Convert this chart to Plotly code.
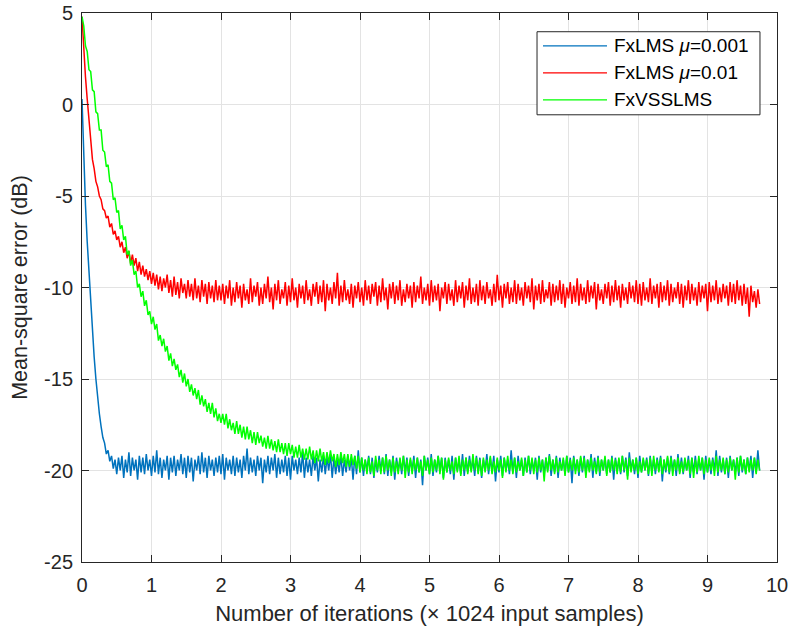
import plotly.graph_objects as go

# iteration step (x 1024 input samples) between stored points
STEP = 0.025

series_names = ["FxLMS <i>μ</i>=0.001", "FxLMS <i>μ</i>=0.01", "FxVSSLMS"]

fxlms_mu001 = [
    0.3, -3.0, -5.5, -7.5, -9.2, -10.9, -12.4, -13.8, -15.0, -16.2,
    -16.9, -17.6, -18.2, -18.5, -19.1, -18.9, -19.5, -19.2, -19.9, -19.4,
    -20.2, -19.3, -20.0, -19.2, -20.4, -19.4, -20.1, -19.0, -20.3, -19.3,
    -20.0, -19.4, -20.5, -19.2, -20.1, -19.3, -20.2, -19.1, -20.0, -19.4,
    -20.3, -19.2, -20.1, -18.9, -20.2, -19.3, -20.4, -19.4, -20.0, -19.2,
    -20.5, -19.3, -20.1, -19.2, -20.3, -19.4, -20.0, -19.1, -20.2, -19.3,
    -20.4, -19.2, -20.1, -19.3, -20.6, -19.4, -20.0, -19.2, -20.2, -19.0,
    -20.1, -19.3, -20.4, -19.2, -20.0, -19.4, -20.3, -19.3, -20.1, -19.2,
    -20.2, -19.1, -20.5, -19.3, -20.0, -19.4, -20.2, -19.2, -20.3, -19.3,
    -20.1, -19.4, -20.4, -19.2, -20.0, -18.8, -20.2, -19.3, -20.1, -19.4,
    -20.3, -19.2, -20.0, -19.3, -20.7, -19.4, -20.1, -19.2, -20.2, -19.3,
    -20.0, -19.1, -20.4, -19.3, -20.2, -19.4, -20.1, -19.2, -20.3, -19.3,
    -20.5, -19.2, -20.0, -19.4, -20.2, -19.3, -20.1, -19.0, -20.4, -19.3,
    -20.1, -19.4, -20.3, -19.2, -20.0, -19.3, -20.6, -19.4, -20.1, -19.2,
    -20.2, -19.3, -20.0, -19.1, -20.4, -19.3, -20.2, -19.4, -20.1, -19.2,
    -20.3, -19.4, -20.1, -19.2, -20.0, -19.3, -20.5, -19.2, -20.2, -18.9,
    -20.1, -19.3, -20.3, -19.4, -20.0, -19.2, -20.2, -19.3, -20.4, -19.4,
    -20.1, -19.2, -20.0, -19.3, -20.2, -19.1, -20.3, -19.4, -20.1, -19.2,
    -20.5, -19.3, -20.0, -19.4, -20.2, -19.2, -20.1, -19.3, -20.3, -19.4,
    -20.0, -19.2, -20.4, -19.3, -20.1, -19.4, -20.8, -19.2, -20.0, -19.3,
    -20.2, -19.1, -20.3, -19.4, -20.1, -19.2, -20.0, -19.3, -20.4, -19.3,
    -20.1, -19.4, -20.2, -19.2, -20.5, -19.3, -20.0, -19.4, -20.2, -19.1,
    -20.3, -19.3, -20.1, -19.2, -20.0, -19.4, -20.3, -19.2, -20.1, -19.3,
    -20.4, -19.4, -20.0, -19.1, -20.2, -19.3, -20.1, -19.2, -20.6, -19.4,
    -20.1, -19.2, -20.3, -19.3, -20.0, -19.4, -20.2, -18.9, -20.1, -19.3,
    -20.4, -19.2, -20.0, -19.4, -20.3, -19.3, -20.1, -19.2, -20.2, -19.4,
    -20.0, -19.3, -20.5, -19.2, -20.1, -19.4, -20.2, -19.3, -20.0, -19.1,
    -20.3, -19.4, -20.1, -19.2, -20.4, -19.3, -20.0, -19.4, -20.2, -19.2,
    -20.1, -19.3, -20.7, -19.2, -20.0, -19.4, -20.3, -19.3, -20.1, -19.2,
    -20.2, -19.4, -20.0, -19.1, -20.4, -19.3, -20.1, -19.2, -20.3, -19.4,
    -20.0, -19.3, -20.2, -19.4, -20.1, -19.2, -20.5, -19.3, -20.0, -19.4,
    -20.2, -19.2, -20.1, -19.3, -20.3, -19.0, -20.0, -19.4, -20.2, -19.3,
    -20.4, -19.2, -20.1, -19.4, -20.0, -19.3, -20.3, -19.2, -20.1, -19.4,
    -20.2, -19.3, -20.0, -19.2, -20.6, -19.4, -20.1, -19.3, -20.2, -19.2,
    -20.0, -19.4, -20.3, -19.1, -20.1, -19.3, -20.2, -19.4, -20.0, -19.2,
    -20.4, -19.3, -20.1, -19.2, -20.2, -19.4, -20.0, -19.3, -20.5, -19.2,
    -20.1, -19.4, -20.2, -19.3, -20.0, -18.9, -20.3, -19.2, -20.1, -19.4,
    -20.2, -19.3, -20.4, -19.2, -20.0, -19.4, -20.1, -19.3, -20.3, -19.2,
    -20.1, -19.4, -20.2, -19.3, -20.0, -19.2, -20.4, -19.3, -20.1, -18.9,
    -20.0,
]

fxlms_mu01 = [
    4.8, 3.0, 1.5, 0.3, -0.8, -1.9, -3.0, -3.5, -4.2, -4.5,
    -5.0, -5.2, -5.7, -5.8, -6.2, -6.1, -6.7, -6.5, -7.1, -6.9,
    -7.4, -7.2, -7.8, -7.5, -8.1, -7.8, -8.4, -8.0, -8.7, -8.2,
    -8.8, -8.4, -9.1, -8.6, -9.3, -8.8, -9.4, -9.0, -9.6, -9.1,
    -9.8, -9.2, -9.9, -9.3, -10.1, -9.4, -10.2, -9.5, -10.0, -9.3,
    -10.3, -9.6, -10.5, -9.4, -10.4, -9.7, -10.6, -9.5, -10.3, -9.8,
    -10.6, -9.6, -10.5, -9.8, -10.7, -9.5, -10.6, -9.9, -10.8, -9.6,
    -10.5, -9.8, -10.9, -9.7, -10.6, -9.9, -10.8, -9.6, -10.7, -9.9,
    -10.7, -9.8, -10.9, -9.9, -10.6, -9.6, -11.0, -10.0, -10.8, -9.7,
    -10.6, -9.9, -11.1, -9.8, -10.7, -10.1, -10.9, -9.5, -10.8, -9.9,
    -10.5, -9.7, -11.0, -10.0, -10.9, -9.8, -10.6, -9.4, -10.8, -10.0,
    -11.2, -9.8, -10.7, -9.6, -10.9, -10.1, -10.6, -9.7, -11.0, -9.9,
    -10.8, -9.5, -10.7, -10.0, -11.1, -9.8, -10.6, -9.9, -10.9, -9.6,
    -10.7, -10.1, -11.0, -9.8, -10.5, -9.7, -10.9, -9.9, -10.8, -9.6,
    -11.3, -9.8, -10.7, -10.0, -10.9, -9.7, -10.6, -9.2, -11.0, -9.9,
    -10.8, -9.6, -10.7, -10.1, -10.9, -9.8, -11.1, -9.9, -10.6, -9.7,
    -10.8, -10.0, -11.0, -9.6, -10.7, -9.9, -10.9, -9.8, -10.5, -9.7,
    -11.0, -9.9, -10.8, -9.5, -10.7, -10.0, -11.2, -9.8, -10.6, -9.7,
    -10.9, -9.9, -10.7, -9.6, -11.0, -10.1, -10.8, -9.8, -10.6, -9.9,
    -11.1, -9.7, -10.8, -9.9, -10.6, -9.4, -10.9, -10.0, -10.7, -9.8,
    -11.0, -9.6, -10.8, -9.9, -10.7, -9.8, -11.3, -10.0, -10.6, -9.7,
    -10.9, -9.8, -10.7, -10.1, -11.0, -9.6, -10.8, -9.9, -10.6, -9.7,
    -11.1, -9.9, -10.7, -9.5, -10.9, -10.0, -10.8, -9.8, -11.0, -9.6,
    -10.7, -9.9, -10.9, -9.7, -10.6, -10.1, -11.0, -9.8, -10.8, -9.3,
    -10.7, -9.9, -11.1, -9.8, -10.6, -9.7, -10.9, -10.0, -10.8, -9.6,
    -10.9, -9.8, -10.7, -10.0, -11.0, -9.7, -10.6, -9.9, -10.8, -9.5,
    -11.2, -9.9, -10.7, -9.8, -10.9, -9.6, -10.8, -10.1, -10.6, -9.7,
    -11.0, -9.8, -10.8, -9.9, -10.7, -9.6, -10.9, -9.8, -11.1, -10.0,
    -10.6, -9.7, -10.9, -9.9, -10.8, -9.5, -11.0, -9.8, -10.7, -10.0,
    -10.9, -9.6, -10.8, -9.9, -10.6, -9.7, -11.2, -9.8, -10.7, -10.1,
    -10.9, -9.8, -10.6, -9.7, -11.0, -9.9, -10.8, -9.6, -10.7, -9.9,
    -11.1, -9.8, -10.7, -10.0, -10.9, -9.7, -10.6, -9.9, -10.8, -9.6,
    -10.9, -9.8, -11.0, -9.7, -10.7, -10.0, -10.8, -9.5, -10.9, -9.9,
    -10.6, -9.8, -11.1, -9.7, -10.8, -9.9, -10.7, -9.6, -11.0, -9.8,
    -10.8, -10.0, -10.6, -9.7, -10.9, -9.8, -11.1, -9.9, -10.7, -9.6,
    -10.9, -9.8, -10.7, -10.0, -11.0, -9.7, -10.8, -9.9, -10.6, -9.8,
    -11.3, -9.7, -10.8, -9.9, -10.7, -9.6, -10.9, -10.0, -10.8, -9.8,
    -10.6, -9.9, -11.0, -9.7, -10.8, -9.8, -10.9, -9.6, -10.7, -9.9,
    -11.0, -9.8, -10.9, -10.0, -11.6, -9.9, -10.8, -10.2, -11.1, -10.1,
    -10.9,
]

fxvsslms = [
    4.8, 4.3, 3.2, 2.9, 1.9, 1.8, 0.8, 0.7, -0.4, -0.5,
    -1.4, -1.4, -2.5, -2.6, -3.4, -3.3, -4.2, -4.3, -5.2, -5.1,
    -5.9, -5.8, -6.8, -6.6, -7.4, -7.2, -8.2, -8.0, -8.8, -8.5,
    -9.3, -9.1, -10.0, -9.8, -10.5, -10.2, -11.0, -10.7, -11.5, -11.3,
    -12.0, -11.6, -12.3, -12.0, -12.9, -12.6, -13.2, -12.8, -13.5, -13.2,
    -14.0, -13.6, -14.3, -13.9, -14.5, -14.2, -14.9, -14.5, -15.2, -14.7,
    -15.4, -15.0, -15.7, -15.3, -15.9, -15.5, -16.1, -15.6, -16.4, -15.9,
    -16.5, -16.1, -16.8, -16.3, -16.9, -16.3, -17.1, -16.6, -17.3, -16.9,
    -17.4, -16.9, -17.5, -16.9, -17.7, -17.2, -17.8, -17.4, -18.0, -17.3,
    -18.0, -17.5, -18.2, -17.6, -18.3, -17.6, -18.3, -17.8, -18.5, -17.9,
    -18.6, -17.9, -18.5, -18.1, -18.7, -18.2, -18.8, -18.1, -18.8, -18.3,
    -18.9, -18.4, -19.0, -18.3, -19.0, -18.5, -19.1, -18.5, -19.2, -18.5,
    -19.1, -18.6, -19.3, -18.7, -19.3, -18.6, -19.3, -18.8, -19.4, -18.8,
    -19.4, -18.7, -19.4, -18.9, -19.6, -18.9, -19.5, -18.8, -19.5, -19.0,
    -19.7, -19.0, -19.6, -18.9, -19.5, -19.1, -19.8, -19.1, -19.7, -19.0,
    -19.6, -19.1, -19.8, -19.1, -19.8, -19.1, -19.7, -19.2, -19.9, -19.2,
    -20.1, -19.3, -20.0, -19.4, -20.2, -19.3, -20.1, -19.5, -20.3, -19.2,
    -20.0, -19.4, -20.2, -19.3, -20.1, -19.2, -20.0, -19.4, -20.3, -19.3,
    -20.1, -19.5, -20.2, -19.3, -20.0, -19.2, -20.4, -19.4, -20.1, -19.3,
    -20.2, -19.4, -20.0, -19.3, -20.1, -19.5, -20.3, -19.2, -20.0, -19.4,
    -20.2, -19.3, -20.1, -19.4, -20.0, -19.2, -20.2, -19.3, -20.5, -19.4,
    -20.1, -19.3, -20.0, -19.5, -20.2, -19.3, -20.1, -19.2, -20.3, -19.4,
    -20.0, -19.3, -20.2, -19.4, -20.1, -19.1, -20.0, -19.3, -20.2, -19.4,
    -20.3, -19.3, -20.1, -19.4, -20.0, -19.2, -20.2, -19.5, -20.1, -19.3,
    -20.0, -19.4, -20.4, -19.3, -20.1, -19.2, -20.0, -19.4, -20.2, -19.3,
    -20.1, -19.5, -20.0, -19.3, -20.3, -19.4, -20.1, -19.2, -20.0, -19.3,
    -20.2, -19.4, -20.1, -19.3, -20.0, -19.4, -20.6, -19.3, -20.1, -19.2,
    -20.0, -19.4, -20.2, -19.3, -20.1, -19.5, -20.0, -19.3, -20.3, -19.2,
    -20.1, -19.4, -20.0, -19.3, -20.2, -19.4, -20.1, -19.2, -20.0, -19.3,
    -20.4, -19.4, -20.1, -19.3, -20.0, -19.5, -20.2, -19.3, -20.1, -19.4,
    -20.0, -19.2, -20.3, -19.4, -20.1, -19.3, -20.0, -19.4, -20.2, -19.3,
    -20.1, -19.2, -20.0, -19.4, -20.5, -19.3, -20.1, -19.4, -20.0, -19.3,
    -20.2, -19.5, -20.1, -19.3, -20.0, -19.4, -20.2, -19.3, -20.3, -19.2,
    -20.0, -19.4, -20.1, -19.3, -20.2, -19.4, -20.0, -19.2, -20.1, -19.3,
    -20.3, -19.4, -20.0, -19.3, -20.2, -19.5, -20.1, -19.3, -20.0, -19.4,
    -20.2, -19.3, -20.4, -19.4, -20.1, -19.2, -20.0, -19.3, -20.2, -19.4,
    -20.1, -19.3, -20.0, -19.4, -20.3, -19.2, -20.1, -19.4, -20.0, -19.3,
    -20.2, -19.4, -20.1, -19.3, -20.0, -19.4, -20.5, -19.3, -20.1, -19.2,
    -20.0, -19.4, -20.2, -19.3, -20.1, -19.4, -20.0, -19.3, -20.2, -19.4,
    -20.0,
]

series_values = [fxlms_mu001, fxlms_mu01, fxvsslms]
series_colors = ["#0072BD", "#FF0000", "#00FF00"]

x_tick_vals = [0, 1, 2, 3, 4, 5, 6, 7, 8, 9, 10]
x_tick_text = ["0", "1", "2", "3", "4", "5", "6", "7", "8", "9", "10"]
y_tick_vals = [5, 0, -5, -10, -15, -20, -25]
y_tick_text = ["5", "0", "-5", "-10", "-15", "-20", "-25"]

FONT = "Liberation Sans, Arial, Helvetica, sans-serif"
AX = "#262626"

fig = go.Figure()
for name, vals, col in zip(series_names, series_values, series_colors):
    xs = [i * STEP for i in range(len(vals))]
    fig.add_trace(go.Scatter(x=xs, y=vals, mode="lines", name=name,
                             line=dict(color=col, width=1.5), showlegend=False))

# legend drawn as a boxed key in paper coordinates
fig.add_shape(type="rect", xref="paper", yref="paper",
              x0=0.6547, x1=0.9755, y0=0.8146, y1=0.9659,
              line=dict(color=AX, width=1), fillcolor="white", layer="above")
legend_rows_y = [0.9402, 0.8910, 0.8417]
for name, col, ry in zip(series_names, series_colors, legend_rows_y):
    fig.add_shape(type="line", xref="paper", yref="paper",
                  x0=0.6633, x1=0.7554, y0=ry, y1=ry,
                  line=dict(color=col, width=1.2), layer="above")
    fig.add_annotation(xref="paper", yref="paper", x=0.7626, y=ry,
                       xanchor="left", yanchor="middle", text=name,
                       showarrow=False,
                       font=dict(family=FONT, size=19, color="black"))

axis_common = dict(
    showline=True, linecolor=AX, linewidth=1, mirror="ticks",
    ticks="inside", ticklen=7, tickcolor=AX, tickwidth=1,
    showgrid=True, gridcolor="#e3e3e3", gridwidth=1, zeroline=False,
    tickfont=dict(family=FONT, size=20, color=AX),
    ticklabeloverflow="allow",
    automargin=False,
)

fig.update_layout(
    width=790, height=633,
    margin=dict(l=82, r=13, t=13, b=71),
    paper_bgcolor="white", plot_bgcolor="white",
    font=dict(family=FONT, color=AX),
    xaxis=dict(range=[0, 10], tickvals=x_tick_vals, ticktext=x_tick_text,
               ticklabelstandoff=5,
               title=dict(text="Number of iterations (× 1024 input samples)",
                          font=dict(family=FONT, size=22, color=AX), standoff=10),
               **axis_common),
    yaxis=dict(range=[-25, 5], tickvals=y_tick_vals, ticktext=y_tick_text,
               ticklabelstandoff=4,
               title=dict(text="Mean-square error (dB)",
                          font=dict(family=FONT, size=21.5, color=AX), standoff=10),
               **axis_common),
    showlegend=False,
)

# remove the default page margin so the figure fills the window exactly
fig.write_html("out.html", config={"displayModeBar": False},
               post_script="document.body.style.margin='0';")
